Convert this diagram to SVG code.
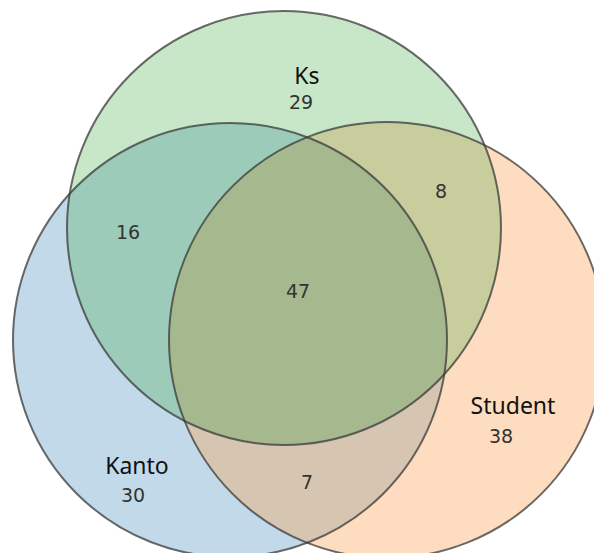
<svg xmlns="http://www.w3.org/2000/svg" width="594" height="553" viewBox="0 0 594 553">
  <style>
    .outline { fill: none; stroke: #3a3a3a; stroke-opacity: 0.75; stroke-width: 2; }
    .label { font-family: "Noto Sans", "Liberation Sans", sans-serif; font-size: 23px; fill: #111; text-anchor: middle; }
    .num { font-family: "DejaVu Sans", "Liberation Sans", sans-serif; font-size: 19px; fill: #333; text-anchor: middle; }
  </style>
  <defs>
    <clipPath id="clipGreen"><circle cx="284" cy="228" r="217"/></clipPath>
    <clipPath id="clipBlue"><circle cx="230" cy="340" r="217"/></clipPath>
  </defs>
  <rect width="594" height="553" fill="#ffffff"/>
  <g id="regions">
    <circle cx="230" cy="340" r="217" fill="#c2d9ea"/>
    <circle cx="387" cy="340" r="218" fill="#fedcbf"/>
    <circle cx="284" cy="228" r="217" fill="#c7e7c8"/>
    <circle cx="230" cy="340" r="217" fill="#9ccbb9" clip-path="url(#clipGreen)"/>
    <circle cx="387" cy="340" r="218" fill="#c7cd9c" clip-path="url(#clipGreen)"/>
    <circle cx="387" cy="340" r="218" fill="#d5c5b1" clip-path="url(#clipBlue)"/>
    <g clip-path="url(#clipBlue)">
      <circle cx="387" cy="340" r="218" fill="#a6b88d" clip-path="url(#clipGreen)"/>
    </g>
  </g>
  <g id="connectors"></g>
  <g id="node-kanto">
    <circle class="outline" cx="230" cy="340" r="217"/>
    <text class="label" x="137" y="474">Kanto</text>
    <text class="num" x="133" y="502">30</text>
  </g>
  <g id="node-student">
    <circle class="outline" cx="387" cy="340" r="218"/>
    <text class="label" x="513" y="414">Student</text>
    <text class="num" x="501" y="443">38</text>
  </g>
  <g id="node-ks">
    <circle class="outline" cx="284" cy="228" r="217"/>
    <text class="label" x="307" y="84">Ks</text>
    <text class="num" x="301" y="109">29</text>
  </g>
  <g id="node-ks-kanto"><text class="num" x="128" y="239">16</text></g>
  <g id="node-ks-student"><text class="num" x="441" y="198">8</text></g>
  <g id="node-all"><text class="num" x="298" y="298">47</text></g>
  <g id="node-kanto-student"><text class="num" x="307" y="489">7</text></g>
</svg>
